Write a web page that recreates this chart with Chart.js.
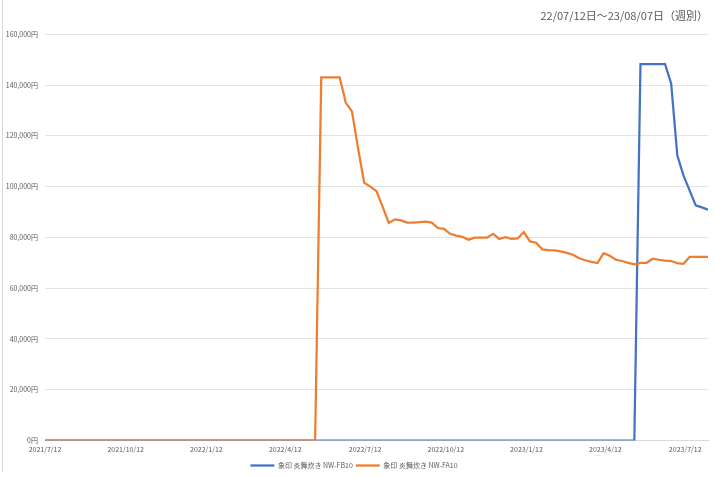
<!DOCTYPE html>
<html>
<head>
<meta charset="utf-8">
<script src="https://cdn.jsdelivr.net/npm/chart.js@4/dist/chart.umd.min.js"></script>
<style>
  html, body { margin: 0; padding: 0; background: #ffffff; }
  #wrap { position: relative; width: 715px; height: 477px; }
  #frame { position: absolute; left: 2px; top: 0; width: 0; height: 472px; border-left: 1px solid #d9d9d9; }
  canvas { position: absolute; left: 0; top: 0; }
</style>
</head>
<body>
<div id="wrap">
  <div id="frame"></div>
  <canvas id="c" width="715" height="477"></canvas>
</div>
<script>
// ---- data ----
const titleText = '22/07/12日〜23/08/07日（週別）';
const startDate = '2021-07-12'; // first weekly point
const seriesNames = ['象印 炎舞炊き NW-FB10', '象印 炎舞炊き NW-FA10'];
const seriesColors = ['#4472C4', '#ED7D31'];

// weekly prices (yen), one value per week from 2021/7/12 to 2023/8/7
const fb10Values = [
  0,0,0,0,0,0,0,0,0,0, 0,0,0,0,0,0,0,0,0,0,
  0,0,0,0,0,0,0,0,0,0, 0,0,0,0,0,0,0,0,0,0,
  0,0,0,0,0,0,0,0,0,0, 0,0,0,0,0,0,0,0,0,0,
  0,0,0,0,0,0,0,0,0,0, 0,0,0,0,0,0,0,0,0,0,
  0,0,0,0,0,0,0,0,0,0, 0,0,0,0,0,0,0,
  148200,148200,148200,148200,148200,140600,112300,104400,98500,92600,91800,90900
];
const fa10Values = [
  0,0,0,0,0,0,0,0,0,0, 0,0,0,0,0,0,0,0,0,0,
  0,0,0,0,0,0,0,0,0,0, 0,0,0,0,0,0,0,0,0,0,
  0,0,0,0,0,
  143000,143000,143000,143000,133000,129600,115000,101500,100000,98200,
  92000,85700,87100,86700,85800,85800,86000,86200,85800,83700,
  83400,81400,80700,80200,79100,79900,79900,79900,81400,79400,
  80100,79400,79600,82100,78400,77900,75300,75000,74900,74500,
  73900,73200,71800,71000,70400,69900,73800,72800,71200,70700,
  70000,69400,70000,70000,71600,71200,70900,70700,69900,69600,
  72300,72300,72300,72300
];
const xTickLabels = ['2021/7/12','2021/10/12','2022/1/12','2022/4/12','2022/7/12','2022/10/12','2023/1/12','2023/4/12','2023/7/12'];
const yMax = 160000;
const yStep = 20000;

// ---- helpers ----
const DAY = 86400000;
const t0 = Date.parse(startDate + 'T00:00:00Z');
function dayOffset(label) {
  const p = label.split('/').map(Number);
  return Math.round((Date.UTC(p[0], p[1] - 1, p[2]) - t0) / DAY);
}
const xTickDays = xTickLabels.map(dayOffset);
const labelByDay = {};
xTickLabels.forEach((l, i) => { labelByDay[xTickDays[i]] = l; });
function toPoints(vals) { return vals.map((v, i) => ({ x: i * 7, y: v })); }
const lastDay = (fa10Values.length - 1) * 7;

const font = "'Noto Sans CJK JP', 'Noto Sans', sans-serif";
const grey = '#595959';

new Chart(document.getElementById('c'), {
  type: 'line',
  data: {
    datasets: [
      { label: seriesNames[0], data: toPoints(fb10Values), borderColor: seriesColors[0], backgroundColor: seriesColors[0],
        borderWidth: 2.25, pointRadius: 0, tension: 0, order: 1 },
      { label: seriesNames[1], data: toPoints(fa10Values), borderColor: seriesColors[1], backgroundColor: seriesColors[1],
        borderWidth: 2.25, pointRadius: 0, tension: 0, order: 0 }
    ]
  },
  options: {
    responsive: false,
    animation: false,
    layout: { padding: { left: 0, right: 7, top: 4, bottom: -2 } },
    plugins: {
      title: { display: true, text: titleText, align: 'end', color: grey,
        font: { family: font, size: 11, weight: 'normal' }, padding: { top: 5, bottom: 12 } },
      legend: { position: 'bottom',
        labels: { color: grey, font: { family: font, size: 7 }, usePointStyle: true, pointStyle: 'line',
          pointStyleWidth: 24, boxWidth: 24, boxHeight: 7, padding: 3,
          sort: (a, b) => a.datasetIndex - b.datasetIndex } },
      tooltip: { enabled: false }
    },
    scales: {
      x: { type: 'linear', min: 0, max: lastDay,
        grid: { display: false, drawTicks: false },
        border: { display: true, color: '#d9d9d9' },
        afterBuildTicks: (s) => { s.ticks = xTickDays.map(v => ({ value: v })); },
        ticks: { autoSkip: false, maxRotation: 0, color: grey, font: { family: font, size: 7 }, padding: 5,
          callback: (v) => labelByDay[v] || '' } },
      y: { min: 0, max: yMax,
        afterFit: (s) => { s.width = 45; },
        grid: { color: '#e3e3e3', lineWidth: 1, drawTicks: false },
        border: { display: false },
        ticks: { stepSize: yStep, color: grey, font: { family: font, size: 7 }, padding: 7,
          callback: (v) => v.toLocaleString('en-US') + '円' } }
    }
  }
});
</script>
</body>
</html>
